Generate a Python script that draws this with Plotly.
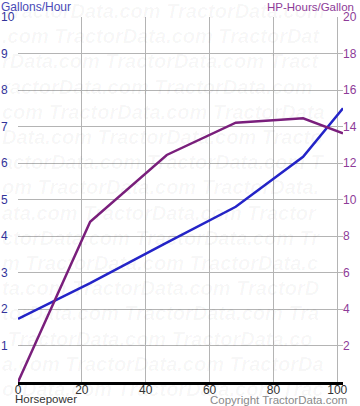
import plotly.graph_objects as go

hp = [0, 22.6, 46.6, 68.2, 89.3, 101.8]
gal_per_hour = [1.73, 2.71, 3.82, 4.80, 6.17, 7.50]
hp_hours_per_gal = [0.0, 8.78, 12.44, 14.21, 14.45, 13.63]

x_ticks = [0, 20, 40, 60, 80, 100]
y_ticks = list(range(1, 11))
y2_ticks = list(range(2, 21, 2))

FONT = "Liberation Sans, Arial, sans-serif"
BLUE = "#2424c8"
PURPLE = "#7a1f7c"
LEFT_LBL = "#33339a"
RIGHT_LBL = "#8e3b98"

W, H = 360, 406
L, R, T, B = 17.5, 16.5, 17, 24
pw = W - L - R
ph = H - T - B


def px_x(p):
    return (p - L) / pw


def px_y(p):
    return (H - B - p) / ph


fig = go.Figure()
fig.add_trace(go.Scatter(x=hp, y=gal_per_hour, mode="lines",
                         line=dict(color=BLUE, width=2.5), yaxis="y", showlegend=False))
fig.add_trace(go.Scatter(x=hp, y=hp_hours_per_gal, mode="lines",
                         line=dict(color=PURPLE, width=2.5), yaxis="y2", showlegend=False))

# faint watermark rows (kept inside the figure width)
WM = "TractorData.com " * 4
ann = []
for k in range(16):
    off = (k * 11) % 16
    row = WM[off:off + 31]
    ann.append(dict(
        text="<b><i>" + row + "</i></b>",
        xref="paper", yref="paper", x=px_x(-1), y=px_y(11 + 25.2 * k),
        xanchor="left", yanchor="middle", showarrow=False,
        font=dict(family=FONT, size=20, color="rgba(0,0,0,0.035)")))

ann += [
    dict(text="Gallons/Hour", xref="paper", yref="paper", x=px_x(-2), y=px_y(7),
         xanchor="left", yanchor="middle", showarrow=False,
         font=dict(family=FONT, size=12, color="#4a4ab8")),
    dict(text="HP-Hours/Gallon", xref="paper", yref="paper", x=px_x(357), y=px_y(7),
         xanchor="right", yanchor="middle", showarrow=False,
         font=dict(family=FONT, size=11.5, color=RIGHT_LBL)),
    dict(text="Horsepower", xref="paper", yref="paper", x=px_x(12), y=px_y(399),
         xanchor="left", yanchor="middle", showarrow=False,
         font=dict(family=FONT, size=11.5, color="#333333")),
    dict(text="Copyright TractorData.com", xref="paper", yref="paper", x=px_x(350), y=px_y(400),
         xanchor="right", yanchor="middle", showarrow=False,
         font=dict(family=FONT, size=11.5, color="#8a8a8a")),
]
for v in y_ticks:
    ann.append(dict(text=str(v), xref="paper", yref="y", x=px_x(-2), y=v,
                    xanchor="left", yanchor="middle", showarrow=False,
                    font=dict(family=FONT, size=12, color=LEFT_LBL)))

fig.update_layout(
    width=W, height=H,
    margin=dict(l=L, r=R, t=T, b=B, pad=0, autoexpand=False),
    paper_bgcolor="white", plot_bgcolor="white",
    font=dict(family=FONT, size=12),
    xaxis=dict(range=[0, 101.8], tickvals=x_ticks, ticktext=[str(v) for v in x_ticks],
               showgrid=True, gridcolor="#b4b4b4", gridwidth=1, zeroline=False,
               showline=True, linecolor="black", linewidth=2.5, ticks="",
               automargin=False, ticklabelstandoff=-5,
               tickfont=dict(family=FONT, size=12, color="#333333")),
    yaxis=dict(range=[0, 10], tickvals=list(range(0, 11)), showticklabels=False,
               showgrid=True, gridcolor="#b4b4b4", gridwidth=1, zeroline=False,
               showline=False, ticks="", automargin=False),
    yaxis2=dict(range=[0, 20], tickvals=y2_ticks, overlaying="y", side="right",
                showgrid=False, zeroline=False, showline=False, ticks="",
                automargin=False,
                tickfont=dict(family=FONT, size=12, color=RIGHT_LBL),
                ticklabelstandoff=-1),
    annotations=ann,
)

fig.write_html("out.html")
